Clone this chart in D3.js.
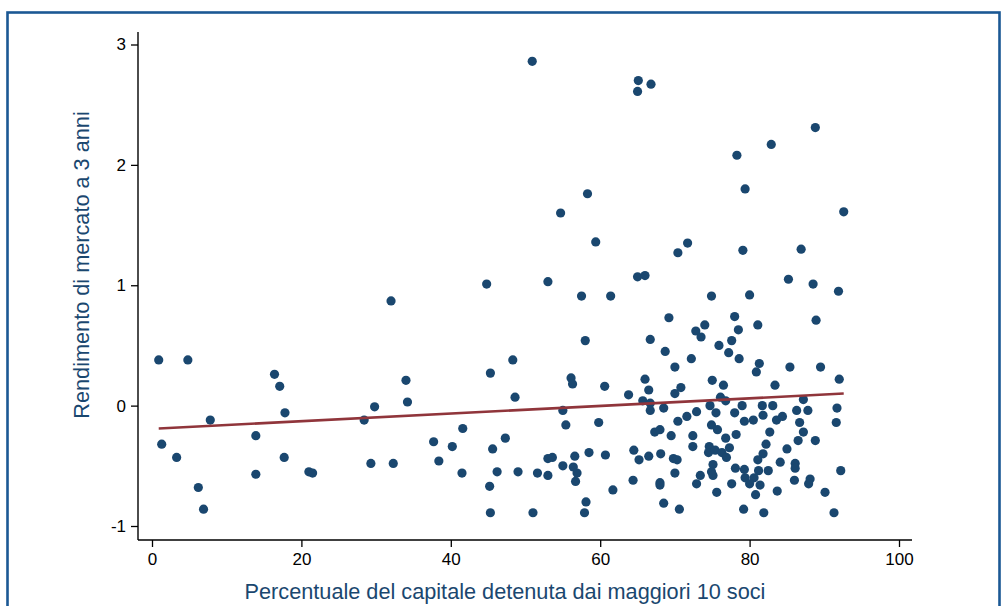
<!DOCTYPE html>
<html>
<head>
<meta charset="utf-8">
<script src="https://cdn.jsdelivr.net/npm/d3@7"></script>
<style>
  html, body { margin: 0; padding: 0; background: #ffffff; }
  svg { display: block; font-family: "Liberation Sans", Arial, sans-serif; }
</style>
</head>
<body>
<svg id="chart" width="1008" height="606"></svg>
<script>
// Ownership concentration (top-10 shareholders, %) vs 3-year market return
const pctTop10 = [
  0.9, 4.8, 1.3, 3.3, 7.8, 6.2, 6.9, 16.4, 17.1, 17.8, 13.9, 17.7, 13.9, 21.0, 21.5,
  28.4, 29.8, 29.3, 32.3, 32.0, 44.8, 53.0, 34.0, 34.2, 45.3, 48.3, 48.6, 50.9, 65.1, 65.0,
  66.8, 58.3, 54.7, 59.4, 70.4, 71.7, 88.8, 82.9, 78.3, 79.4, 92.6, 79.1, 86.9, 65.0, 66.0,
  57.5, 61.4, 74.9, 69.2, 78.0, 74.0, 72.8, 73.5, 78.5, 58.0, 66.7, 75.9, 77.6, 77.2, 68.7,
  72.2, 78.6, 70.0, 56.1, 56.3, 60.6, 66.0, 66.5, 63.8, 65.7, 66.7, 70.0, 70.8, 75.0, 76.5,
  76.1, 76.8, 74.7, 55.0, 55.4, 85.2, 88.5, 91.9, 80.0, 81.1, 88.9, 81.3, 80.9, 85.4, 89.5,
  83.4, 92.0, 87.2, 79.0, 81.7, 83.1, 86.3, 87.8, 91.7, 91.6, 79.3, 80.5, 81.8, 83.6, 84.4,
  86.7, 87.2, 82.7, 86.5, 88.8, 82.2, 85.0, 81.8, 81.1, 84.1, 86.1, 86.1, 79.3, 81.2, 82.5,
  92.2, 79.4, 80.6, 80.0, 81.4, 86.0, 88.1, 87.9, 83.7, 90.1, 80.8, 79.2, 81.9, 91.3, 68.5,
  66.7, 59.8, 72.9, 75.5, 78.0, 71.6, 70.4, 74.9, 75.7, 67.3, 68.0, 69.5, 72.4, 72.4, 76.8,
  78.2, 74.6, 74.5, 75.4, 76.3, 77.3, 76.9, 75.1, 74.9, 75.1, 73.4, 72.9, 75.6, 77.6, 78.1,
  64.5, 65.2, 66.5, 68.1, 69.8, 70.3, 70.0, 68.0, 68.0, 64.4, 61.7, 68.5, 70.6, 58.5, 60.7,
  56.6, 55.0, 56.4, 56.9, 56.7, 58.1, 57.9, 41.6, 37.7, 40.2, 38.4, 41.5, 47.3, 45.6, 46.2,
  49.0, 45.2, 45.3, 51.0, 51.6, 53.0, 53.6, 53.0
];
const return3y = [
  0.38, 0.38, -0.32, -0.43, -0.12, -0.68, -0.86, 0.26, 0.16, -0.06, -0.25, -0.43, -0.57, -0.55, -0.56,
  -0.12, -0.01, -0.48, -0.48, 0.87, 1.01, 1.03, 0.21, 0.03, 0.27, 0.38, 0.07, 2.86, 2.70, 2.61,
  2.67, 1.76, 1.60, 1.36, 1.27, 1.35, 2.31, 2.17, 2.08, 1.80, 1.61, 1.29, 1.30, 1.07, 1.08,
  0.91, 0.91, 0.91, 0.73, 0.74, 0.67, 0.62, 0.57, 0.63, 0.54, 0.55, 0.50, 0.54, 0.44, 0.45,
  0.39, 0.39, 0.32, 0.23, 0.18, 0.16, 0.22, 0.13, 0.09, 0.04, 0.02, 0.10, 0.15, 0.21, 0.17,
  0.07, 0.04, 0.00, -0.04, -0.16, 1.05, 1.01, 0.95, 0.92, 0.67, 0.71, 0.35, 0.28, 0.32, 0.32,
  0.17, 0.22, 0.05, 0.00, 0.00, 0.00, -0.04, -0.04, -0.02, -0.14, -0.13, -0.12, -0.08, -0.12, -0.09,
  -0.14, -0.22, -0.22, -0.29, -0.29, -0.32, -0.36, -0.40, -0.45, -0.47, -0.48, -0.52, -0.53, -0.54, -0.54,
  -0.54, -0.60, -0.60, -0.65, -0.66, -0.62, -0.61, -0.65, -0.71, -0.72, -0.74, -0.86, -0.89, -0.89, -0.02,
  -0.04, -0.14, -0.05, -0.06, -0.06, -0.09, -0.13, -0.16, -0.20, -0.22, -0.20, -0.25, -0.25, -0.34, -0.27,
  -0.24, -0.34, -0.39, -0.37, -0.39, -0.35, -0.43, -0.49, -0.55, -0.58, -0.58, -0.65, -0.72, -0.65, -0.52,
  -0.37, -0.45, -0.42, -0.40, -0.44, -0.45, -0.56, -0.64, -0.66, -0.62, -0.70, -0.81, -0.86, -0.39, -0.41,
  -0.42, -0.50, -0.51, -0.56, -0.63, -0.80, -0.89, -0.19, -0.30, -0.34, -0.46, -0.56, -0.27, -0.36, -0.55,
  -0.55, -0.67, -0.89, -0.89, -0.56, -0.44, -0.43, -0.58
];

// Fitted linear trend: return = intercept + slope * pct
const fitIntercept = -0.193;
const fitSlope = 0.00317;

const xTicks = [0, 20, 40, 60, 80, 100];
const yTicks = [-1, 0, 1, 2, 3];
const xTitle = "Percentuale del capitale detenuta dai maggiori 10 soci";
const yTitle = "Rendimento di mercato a 3 anni";

const navy = "#1a476f";
const maroon = "#90353b";

const svg = d3.select("#chart");

// Outer graph frame
svg.append("rect")
  .attr("x", 7.5).attr("y", 12.5)
  .attr("width", 992).attr("height", 640)
  .attr("fill", "#ffffff")
  .attr("stroke", "#1b5894")
  .attr("stroke-width", 2.6);

// Plot region bounds
const plot = { left: 138, right: 912, top: 32, bottom: 540 };

const x = d3.scaleLinear().domain([0, 100]).range([152, 899]);
const y = d3.scaleLinear().domain([-1, 3]).range([526, 44.5]);

// Axes
const xAxis = d3.axisBottom(x).tickValues(xTicks).tickSize(7).tickSizeOuter(0).tickPadding(6);
const yAxis = d3.axisLeft(y).tickValues(yTicks).tickSize(7).tickSizeOuter(0).tickPadding(5)
  .tickFormat(d => d < 0 ? "-" + Math.abs(d) : String(d));

const gx = svg.append("g").attr("transform", `translate(0,${plot.bottom})`).call(xAxis);
const gy = svg.append("g").attr("transform", `translate(${plot.left},0)`).call(yAxis);

[gx, gy].forEach(g => {
  g.select(".domain").remove();
  g.selectAll(".tick line").attr("stroke", "#000").attr("stroke-width", 1.3);
  g.selectAll(".tick text").attr("fill", "#000").attr("font-size", 17)
    .attr("font-family", "'Liberation Sans', Arial, sans-serif");
});

svg.append("line")
  .attr("x1", plot.left).attr("x2", plot.right)
  .attr("y1", plot.bottom).attr("y2", plot.bottom)
  .attr("stroke", "#000").attr("stroke-width", 1.4);
svg.append("line")
  .attr("x1", plot.left).attr("x2", plot.left)
  .attr("y1", plot.top).attr("y2", plot.bottom)
  .attr("stroke", "#000").attr("stroke-width", 1.4);

// Scatter points
const pts = pctTop10.map((v, i) => ({ pct: v, ret: return3y[i] }));
svg.append("g").selectAll("circle")
  .data(pts)
  .join("circle")
  .attr("cx", d => x(d.pct))
  .attr("cy", d => y(d.ret))
  .attr("r", 4.6)
  .attr("fill", navy);

// Linear fit over the observed range
const xMin = d3.min(pctTop10), xMax = d3.max(pctTop10);
const fitLine = [xMin, xMax].map(v => ({ pct: v, ret: fitIntercept + fitSlope * v }));
svg.append("path")
  .datum(fitLine)
  .attr("fill", "none")
  .attr("stroke", maroon)
  .attr("stroke-width", 2.6)
  .attr("d", d3.line().x(d => x(d.pct)).y(d => y(d.ret)));

// Axis titles
svg.append("text")
  .attr("x", (plot.left + plot.right) / 2 - 20)
  .attr("y", 599)
  .attr("text-anchor", "middle")
  .attr("fill", navy)
  .attr("font-size", 21.7)
  .text(xTitle);

svg.append("text")
  .attr("transform", `translate(89,${(plot.top + plot.bottom) / 2 - 21}) rotate(-90)`)
  .attr("text-anchor", "middle")
  .attr("fill", navy)
  .attr("font-size", 21.7)
  .text(yTitle);
</script>
</body>
</html>
